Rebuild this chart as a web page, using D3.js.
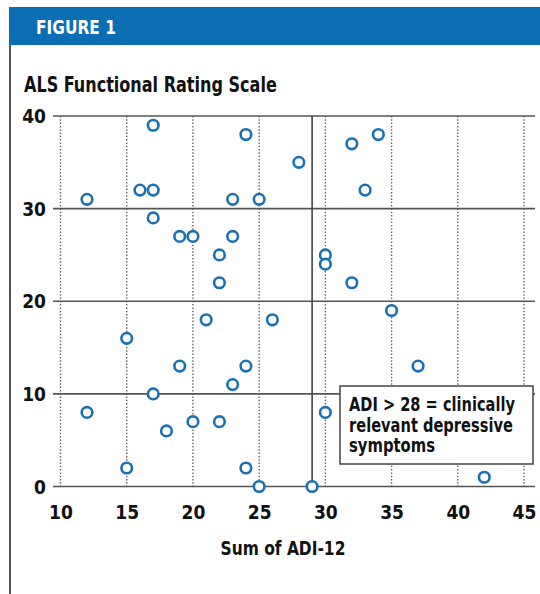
<!DOCTYPE html>
<html>
<head>
<meta charset="utf-8">
<script src="https://cdn.jsdelivr.net/npm/d3@7"></script>
<style>
  body { margin: 0; background: #fff; }
  svg { display: block; }
  text { font-family: "DejaVu Sans Condensed", "DejaVu Sans", "Roboto", sans-serif; font-weight: bold; fill: #111; }
</style>
</head>
<body>
<script>
// data: ADI-12 sum vs ALS functional rating scale
var adiSum = [17, 24, 12, 16, 17, 23, 25, 17, 19, 20, 23, 22, 22,
              28, 32, 34, 33, 30, 30, 32,
              21, 26, 15, 19, 24, 23, 17, 12, 18, 20, 22, 15, 24, 25,
              35, 37, 30, 42, 29];
var alsfrs = [39, 38, 31, 32, 32, 31, 31, 29, 27, 27, 27, 25, 22,
              35, 37, 38, 32, 25, 24, 22,
              18, 18, 16, 13, 13, 11, 10, 8, 6, 7, 7, 2, 2, 0,
              19, 13, 8, 1, 0];
var xTicks = [10, 15, 20, 25, 30, 35, 40, 45];
var yTicks = [0, 10, 20, 30, 40];
var cutoff = 29;
var noteLines = ["ADI > 28 = clinically", "relevant depressive", "symptoms"];

var svgWidth = 540;
var svgHeight = 594;

var svg = d3.select("body")
  .append("svg")
  .attr("width", svgWidth)
  .attr("height", svgHeight);

// squeeze a text horizontally to a target width (the original font is condensed)
function squeeze(sel, x0, y0, target) {
  var w = sel.node().getComputedTextLength();
  var s = Math.min(1, target / w);
  sel.attr("x", 0).attr("y", 0)
    .attr("transform", `translate(${x0}, ${y0}) scale(${s}, 1)`);
}

// header bar + frame
svg.append("rect")
  .attr("x", 9).attr("y", 7)
  .attr("width", svgWidth - 9).attr("height", 38)
  .attr("fill", "#0b6db2");

var fig = svg.append("text")
  .style("font-size", "20px")
  .style("fill", "#fff")
  .text("FIGURE 1");
squeeze(fig, 36, 34, 80);

svg.append("line")
  .attr("x1", 10).attr("x2", 10)
  .attr("y1", 45).attr("y2", svgHeight)
  .attr("stroke", "#555")
  .attr("stroke-width", 2);

var title = svg.append("text")
  .style("font-size", "21px")
  .text("ALS Functional Rating Scale");
squeeze(title, 24, 92, 253);

// scales
var x = d3.scaleLinear().domain([10, 45]).range([60.5, 524]);
var y = d3.scaleLinear().domain([0, 40]).range([486.5, 116]);

var chartGroup = svg.append("g");

// dotted vertical grid
chartGroup.selectAll(".vgrid")
  .data(xTicks)
  .enter()
  .append("line")
  .attr("class", "vgrid")
  .attr("x1", d => x(d)).attr("x2", d => x(d))
  .attr("y1", y(40)).attr("y2", y(0))
  .attr("stroke", "#666")
  .attr("stroke-width", 1.4)
  .attr("stroke-dasharray", "1.5,1.8");

// solid horizontal lines
chartGroup.selectAll(".hgrid")
  .data(yTicks)
  .enter()
  .append("line")
  .attr("class", "hgrid")
  .attr("x1", 53).attr("x2", 535)
  .attr("y1", d => y(d)).attr("y2", d => y(d))
  .attr("stroke", "#555")
  .attr("stroke-width", 1.6);

// cutoff line
chartGroup.append("line")
  .attr("x1", x(cutoff)).attr("x2", x(cutoff))
  .attr("y1", y(40)).attr("y2", y(0))
  .attr("stroke", "#444")
  .attr("stroke-width", 1.6);

// axes (labels only, lines drawn above)
var bottomAxis = d3.axisBottom(x).tickValues(xTicks).tickSize(0).tickPadding(0);
var leftAxis = d3.axisLeft(y).tickValues(yTicks).tickSize(0).tickPadding(0);

var gx = chartGroup.append("g")
  .attr("transform", "translate(0, 500)")
  .call(bottomAxis);
gx.select(".domain").remove();
gx.selectAll("text")
  .attr("dy", "1em")
  .style("font-size", "19px")
  .style("font-family", null);

var gy = chartGroup.append("g")
  .attr("transform", "translate(46, 0)")
  .call(leftAxis);
gy.select(".domain").remove();
gy.selectAll("text")
  .attr("dy", "0.35em")
  .style("font-size", "19px")
  .style("font-family", null);

var xLabel = chartGroup.append("text")
  .style("font-size", "19px")
  .text("Sum of ADI-12");
squeeze(xLabel, 220.5, 555, 125);

// annotation box
var noteWidths = [166, 164, 86];
var note = chartGroup.append("g");
note.append("rect")
  .attr("x", 340).attr("y", 386)
  .attr("width", 193).attr("height", 78)
  .attr("fill", "#fff")
  .attr("stroke", "#444")
  .attr("stroke-width", 1.5);

noteLines.forEach(function(line, i) {
  var t = note.append("text")
    .style("font-size", "19px")
    .text(line);
  squeeze(t, 349, 411 + i * 20.5, noteWidths[i]);
});

// points
var points = adiSum.map(function(d, i) { return { adi: d, als: alsfrs[i] }; });

chartGroup.selectAll("circle")
  .data(points)
  .enter()
  .append("circle")
  .attr("cx", d => x(d.adi))
  .attr("cy", d => y(d.als))
  .attr("r", 5.3)
  .attr("fill", "#fff")
  .attr("stroke", "#1a70b0")
  .attr("stroke-width", 2.6);
</script>
</body>
</html>
